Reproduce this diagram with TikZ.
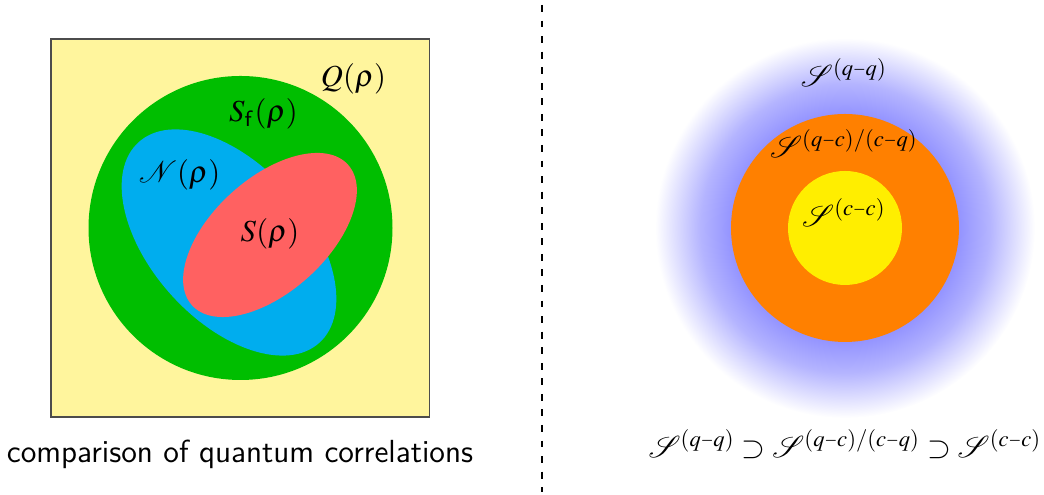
\documentclass[tikz,border=0pt]{standalone}
\usepackage{mathptmx}
\usepackage{mathrsfs}
\usepackage{graphicx}
\definecolor{qyellow}{RGB}{255,245,157}
\definecolor{sfgreen}{RGB}{0,190,0}
\definecolor{nblue}{RGB}{0,173,238}
\definecolor{sred}{RGB}{255,97,97}
\definecolor{qcorange}{RGB}{255,128,0}
\definecolor{ccyellow}{RGB}{255,238,0}
\definecolor{glowc}{RGB}{148,148,255}
\newcommand{\smn}{\mathbin{\scalebox{0.72}[1]{$\scriptstyle-$}}}
\pgfdeclareradialshading{glow}{\pgfpoint{0bp}{0bp}}{color(0bp)=(glowc); color(15bp)=(glowc); color(19bp)=(glowc!70!white); color(25bp)=(white); color(50bp)=(white)}
\begin{document}
\begin{tikzpicture}[x=0.36pt,y=0.36pt,
  lab/.style={inner sep=0pt, anchor=base, font=\fontsize{11}{13}\selectfont},
  captext/.style={inner sep=0pt, anchor=base, font=\sffamily\fontsize{11.5}{13}\selectfont}]
\useasboundingbox (0,0) rectangle (1044,495);
% left panel
\fill[qyellow, draw=black!70, line width=0.4pt] (51,78) rectangle (429.5,456);
\fill[sfgreen] (240.5,267) circle[radius=152];
\fill[nblue, rotate around={-48:(229,252.5)}] (229,252.5) ellipse[x radius=135, y radius=78];
\fill[sred, rotate around={42:(270,260)}] (270,260) ellipse[x radius=105, y radius=57];
\node[lab] (q) at (353.5,408) {$Q(\rho)$};
\node[lab] (sf) at (263.5,373) {$S_{\mathsf{f}}(\rho)$};
\node[lab] (n) at (179.5,312) {$\mathcal{N}(\rho)$};
\node[lab] (s) at (270,253) {$S(\rho)$};
\node[captext] (caption) at (240,32) {comparison of quantum correlations};
% divider
\coordinate (dtop) at (542,490);
\coordinate (dbot) at (542,3);
\draw[line width=0.45pt, dash pattern=on 2.5pt off 3.1pt] (dtop) -- (dbot);
% right panel
\shade[shading=glow] (845,267) circle[radius=190];
\fill[qcorange] (845,267) circle[radius=114];
\fill[ccyellow] (845,267) circle[radius=57];
\node[lab] (sqq) at (844,408) {$\mathscr{S}^{(q\smn q)}$};
\node[lab] (sqc) at (844,337) {$\mathscr{S}^{(q\smn c)/(c\smn q)}$};
\node[lab] (scc) at (844,268) {$\mathscr{S}^{(c\smn c)}$};
\node[lab] (chain) at (845,37) {$\mathscr{S}^{(q\smn q)}\supset\mathscr{S}^{(q\smn c)/(c\smn q)}\supset\mathscr{S}^{(c\smn c)}$};
\end{tikzpicture}
\end{document}
